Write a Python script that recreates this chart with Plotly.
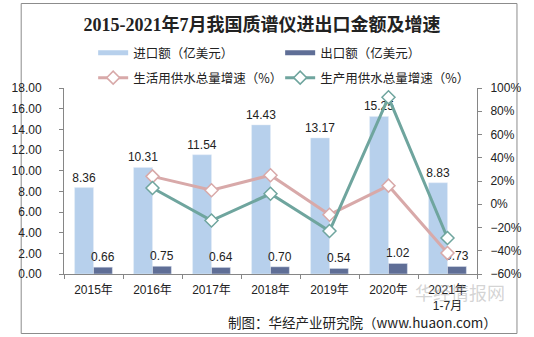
import plotly.graph_objects as go

categories = ["2015年", "2016年", "2017年", "2018年", "2019年", "2020年", "2021年<br>1-7月"]
imports = [8.36, 10.31, 11.54, 14.43, 13.17, 15.25, 8.83]
exports = [0.66, 0.75, 0.64, 0.70, 0.54, 1.02, 0.73]
growth_cats = categories[1:]
growth_life = [24, 12, 25, -9, 16, -42]
growth_prod = [14, -14, 9, -23, 92, -29]

C_IMP = "#B7D0EC"
C_EXP = "#5F6E96"
C_PINK = "#D8A9A9"
C_TEAL = "#6FA59E"
FONT = "Liberation Sans, Arial, Noto Sans CJK SC"
CJK = "Noto Sans CJK SC, Liberation Sans"

fig = go.Figure()
fig.add_trace(go.Bar(x=categories, y=imports, marker_color=C_IMP, name="进口额（亿美元）",
                     text=[f"{v:.2f}" for v in imports], textposition="outside",
                     constraintext="none",
                     textfont=dict(size=12, color="#222", family=FONT), cliponaxis=False,
                     showlegend=False))
fig.add_trace(go.Bar(x=categories, y=exports, marker_color=C_EXP, name="出口额（亿美元）",
                     text=[f"{v:.2f}" for v in exports], textposition="outside",
                     constraintext="none",
                     textfont=dict(size=12, color="#222", family=FONT), cliponaxis=False,
                     showlegend=False))
fig.add_trace(go.Scatter(x=growth_cats, y=growth_life, yaxis="y2", mode="lines+markers",
                         name="生活用供水总量增速（%）",
                         line=dict(color=C_PINK, width=3),
                         marker=dict(symbol="diamond", size=10, color="white",
                                     line=dict(color=C_PINK, width=1.5)),
                         cliponaxis=False, legend="legend2"))
fig.add_trace(go.Scatter(x=growth_cats, y=growth_prod, yaxis="y2", mode="lines+markers",
                         name="生产用供水总量增速（%）",
                         line=dict(color=C_TEAL, width=3),
                         marker=dict(symbol="diamond", size=10, color="white",
                                     line=dict(color=C_TEAL, width=1.5)),
                         cliponaxis=False, legend="legend2"))
# legend-only entries for the bars (thick bar-style swatches)
fig.add_trace(go.Scatter(x=[None], y=[None], mode="lines", name="进口额（亿美元）",
                         line=dict(color=C_IMP, width=5), legend="legend"))
fig.add_trace(go.Scatter(x=[None], y=[None], mode="lines", name="出口额（亿美元）",
                         line=dict(color=C_EXP, width=5), legend="legend"))

W, H = 534, 337
L, R, T, B = 49, 46, 88, 63
pw, ph = W - L - R, H - T - B

def px(x):
    return (x - L) / pw

def py(y):
    return (H - B - y) / ph

legend_common = dict(orientation="h", xanchor="left", yanchor="middle",
                     font=dict(size=12.5, color="#222", family=CJK),
                     entrywidth=142, entrywidthmode="pixels",
                     bgcolor="rgba(0,0,0,0)", itemwidth=30)

fig.update_layout(
    width=W, height=H,
    margin=dict(l=L, r=R, t=T, b=B),
    paper_bgcolor="white", plot_bgcolor="white",
    barmode="group", bargap=0.36, bargroupgap=0.0,
    title=dict(text="<b>2015-2021年7月我国质谱仪进出口金额及增速</b>",
               x=262 / W, xanchor="center", y=1 - 25 / H, yanchor="middle",
               font=dict(size=18, color="#222", family="Liberation Serif, Noto Sans CJK SC")),
    legend=dict(x=px(80), y=py(53), **legend_common),
    legend2=dict(x=px(80), y=py(78), **legend_common),
    xaxis=dict(type="category", showline=True, linecolor="#868686", linewidth=1,
               ticks="outside", tickson="boundaries", ticklen=4, tickcolor="#868686",
               ticklabelstandoff=5,
               tickfont=dict(size=12, color="#222", family=FONT), showgrid=False),
    yaxis=dict(range=[0, 18], dtick=2, tickformat=".2f", showline=True, linecolor="#868686",
               ticks="outside", ticklen=4, tickcolor="#868686", showgrid=False, zeroline=False,
               ticklabelstandoff=15,
               tickfont=dict(size=12, color="#222", family=FONT)),
    yaxis2=dict(range=[-60, 100], dtick=20, ticksuffix="%", overlaying="y", side="right",
                showline=True, linecolor="#868686", ticks="outside", ticklen=4,
                tickcolor="#868686", showgrid=False, zeroline=False, ticklabelstandoff=6,
                tickfont=dict(size=12, color="#222", family=FONT)),
    shapes=[dict(type="rect", xref="paper", yref="paper",
                 x0=px(3.5), x1=px(530.5), y0=py(333.5), y1=py(3.5),
                 line=dict(color="#8C8C8C", width=1), fillcolor="rgba(0,0,0,0)", layer="below")],
    annotations=[
        dict(text="华经情报网", xref="paper", yref="paper", x=px(470), y=py(292),
             xanchor="center", yanchor="middle", showarrow=False,
             font=dict(size=18, color="rgba(170,170,170,0.5)", family=CJK)),
        dict(text="制图：华经产业研究院（www.huaon.com）", xref="paper", yref="paper",
             x=px(511), y=py(322), xanchor="right", yanchor="middle", showarrow=False,
             font=dict(size=13.5, color="#222", family=CJK)),
    ],
)

fig.write_html("out.html")
